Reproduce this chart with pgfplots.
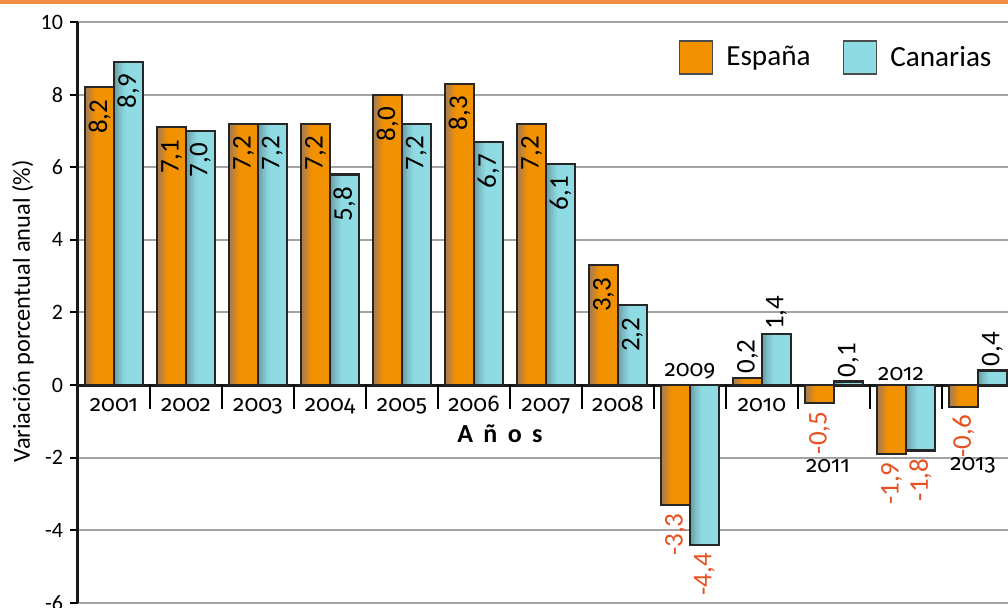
\documentclass[border=0pt]{standalone}
\usepackage{fontspec}
\setmainfont{Carlito}
\newfontfamily\yearfamily[Numbers=OldStyle]{Fira Sans}
\usepackage{pgfplots}
\usepackage{pgfplotstable}
\pgfplotsset{compat=1.18}

\definecolor{esorange}{HTML}{F39200}
\definecolor{esdark}{HTML}{A47A55}
\definecolor{cablue}{HTML}{8EDBE3}
\definecolor{cadark}{HTML}{6A9AA2}
\definecolor{neglab}{HTML}{E9501F}
\definecolor{topline}{HTML}{F58C45}

\newcommand{\vlfont}{\fontsize{13.5pt}{15pt}\selectfont}
\newcommand{\yearfont}{\yearfamily\fontsize{11.4pt}{13pt}\selectfont}

% variacion porcentual anual
\pgfplotstableread{
x y
0 8.2
1 7.1
2 7.2
3 7.2
4 8.0
5 8.3
6 7.2
7 3.3
8 -3.3
9 0.2
10 -0.5
11 -1.9
12 -0.6
}\esdata
\pgfplotstableread{
x y
0 8.9
1 7.0
2 7.2
3 5.8
4 7.2
5 6.7
6 6.1
7 2.2
8 -4.4
9 1.4
10 0.1
11 -1.8
12 0.4
}\cadata

\pgfplotsset{
  barbase/.style={ybar, bar width=0.4, forget plot},
  lab/.style n args={4}{barbase, draw=none, fill=none, nodes near coords,
    every node near coord/.append style={xshift=#2, rotate=90, anchor=#1, inner xsep=#4,
      font=\vlfont, text=#3}},
}
% one thin strip of the left-edge shading
\newcommand{\strip}[5]{\addplot[ybar, forget plot, draw=none, bar width=0.028, bar shift=#1, fill=#4!#2!#5] table {#3};}

\begin{document}
\begin{tikzpicture}
\begin{axis}[
  scale only axis, width=468pt, height=290.5pt,
  xmin=-0.5, xmax=12.5, ymin=-6, ymax=10,
  axis x line=middle, axis y line=left,
  axis line style={-, line width=1.5pt, black!90},
  hide obscured x ticks=false, hide obscured y ticks=false,
  ytick={-6,-4,...,10},
  ymajorgrids, grid style={line width=1pt, black!36},
  tick align=outside, major tick length=4pt,
  y tick style={line width=1pt, black},
  yticklabel style={font=\fontsize{11pt}{13pt}\selectfont},
  /pgf/number format/.cd, use comma, fixed, fixed zerofill, precision=1, assume math mode=true,
  /pgfplots/.cd,
  yticklabel={\pgfmathprintnumber[fixed, precision=0]{\tick}},
  xtick={0,...,12},
  x tick style={draw=none},
  xticklabel style={anchor=base, font=\yearfont, inner sep=0pt},
  xticklabels={{\raisebox{-9pt}{2001}},{\raisebox{-9pt}{2002}},{\raisebox{-9pt}{2003}},
    {\raisebox{-9pt}{2004}},{\raisebox{-9pt}{2005}},{\raisebox{-9pt}{2006}},
    {\raisebox{-9pt}{2007}},{\raisebox{-9pt}{2008}},{\raisebox{8.5pt}{2009}},
    {\raisebox{-9pt}{2010}},{\hspace*{-6pt}\raisebox{-39.5pt}{2011}},{\hspace*{-5pt}\raisebox{6.5pt}{2012}},
    {\hspace*{-5pt}\raisebox{-38.5pt}{2013}}},
  extra x ticks={0.5,1.5,...,11.5},
  extra x tick labels={},
  extra x tick style={major tick length=12pt, x tick style={draw=black, line width=1pt}},
  legend style={draw=none, fill=none, at={(rel axis cs:0.987,0.976)}, anchor=north east,
    font=\fontsize{14.6pt}{16pt}\selectfont, legend columns=2,
    /tikz/every odd column/.append style={column sep=4.5pt},
    /tikz/every even column/.append style={column sep=14pt}},
  legend cell align=left,
]
% Espana: fill, left shading, outline
\addplot[barbase, bar shift=-0.2, fill=esorange, draw=none] table {\esdata};
\strip{-0.386}{92}{\esdata}{esdark}{esorange}
\strip{-0.361}{76}{\esdata}{esdark}{esorange}
\strip{-0.336}{60}{\esdata}{esdark}{esorange}
\strip{-0.311}{44}{\esdata}{esdark}{esorange}
\strip{-0.286}{28}{\esdata}{esdark}{esorange}
\strip{-0.261}{12}{\esdata}{esdark}{esorange}
\addplot[barbase, bar shift=-0.2, fill=none, draw=black!85, line width=1.1pt] table {\esdata};
% Canarias: fill, left shading, outline
\addplot[barbase, bar shift=0.2, fill=cablue, draw=none] table {\cadata};
\strip{0.014}{92}{\cadata}{cadark}{cablue}
\strip{0.039}{76}{\cadata}{cadark}{cablue}
\strip{0.064}{60}{\cadata}{cadark}{cablue}
\strip{0.089}{44}{\cadata}{cadark}{cablue}
\strip{0.114}{28}{\cadata}{cadark}{cablue}
\strip{0.139}{12}{\cadata}{cadark}{cablue}
\addplot[barbase, bar shift=0.2, fill=none, draw=black!85, line width=1.1pt] table {\cadata};

% value labels (one bar width = 0.4 units = 14.4pt)
\addplot[lab={east}{-7.2pt}{black}{6pt}] coordinates {(0,8.2) (1,7.1) (2,7.2) (3,7.2) (4,8.0) (5,8.3) (6,7.2) (7,3.3)};
\addplot[lab={west}{-7.2pt}{black}{2pt}] coordinates {(9,0.2)};
\addplot[lab={east}{-7.2pt}{neglab}{4pt}] coordinates {(8,-3.3) (10,-0.5) (11,-1.9) (12,-0.6)};
\addplot[lab={east}{7.2pt}{black}{6pt}] coordinates {(0,8.9) (1,7.0) (2,7.2) (3,5.8) (4,7.2) (5,6.7) (6,6.1) (7,2.2)};
\addplot[lab={west}{7.2pt}{black}{2pt}] coordinates {(9,1.4) (10,0.1) (12,0.4)};
\addplot[lab={east}{7.2pt}{neglab}{4pt}] coordinates {(8,-4.4) (11,-1.8)};

\addlegendimage{legend image code/.code={\draw[fill=esorange, draw=black!70, line width=0.8pt] (0pt,-8.25pt) rectangle (16.5pt,8.25pt);}}
\addlegendentry{España}
\addlegendimage{legend image code/.code={\draw[fill=cablue, draw=black!70, line width=0.8pt] (0pt,-8.25pt) rectangle (16.5pt,8.25pt);}}
\addlegendentry{Canarias}

\node[anchor=base, font=\bfseries\fontsize{13pt}{15pt}\selectfont\addfontfeature{LetterSpace=40}]
  at (axis cs:5.36,-1.57) {Años};

\coordinate (LL) at (rel axis cs:0,0);
\coordinate (TL) at (rel axis cs:0,1);
\coordinate (UR) at (rel axis cs:1,1);
\coordinate (YL) at (rel axis cs:0,0.502);
\end{axis}
\node[rotate=90, font=\fontsize{12.2pt}{14pt}\selectfont] at ([xshift=-27.5pt]YL) {Variación porcentual anual (\%)};
\pgfresetboundingbox
\path[use as bounding box] ([xshift=-39pt,yshift=-2.5pt]LL) rectangle ([xshift=-3pt,yshift=11pt]UR);
\fill[topline] ([xshift=-39pt,yshift=9pt]TL) rectangle ([xshift=-3pt,yshift=11pt]UR);
\end{tikzpicture}
\end{document}
